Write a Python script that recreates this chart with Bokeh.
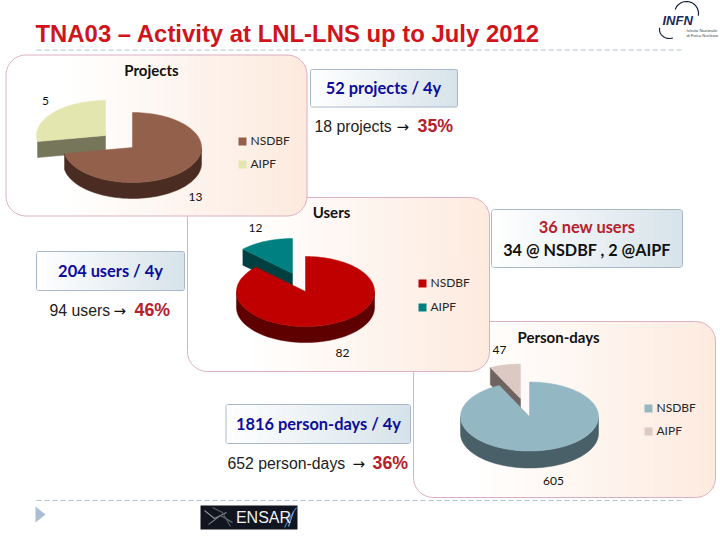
import numpy as np
from bokeh.plotting import figure
from bokeh.models import Range1d
from bokeh.core.properties import value
from bokeh.embed import file_html
from bokeh.resources import INLINE

categories = ["NSDBF", "AIPF"]
project_values = [13, 5]
user_values = [82, 12]
person_day_values = [605, 47]
chart_titles = ["Projects", "Users", "Person-days"]

p = figure(width=720, height=540, output_backend="svg", toolbar_location=None,
           x_range=Range1d(0, 720), y_range=Range1d(540, 0),
           min_border=0, outline_line_color=None, background_fill_color="white",
           border_fill_color="white")
p.axis.visible = False
p.grid.visible = False

SANS = "Liberation Sans"
CAL = "Lato"
ARROW = "DejaVu Sans"


def mix(c0, c1, t):
    t = min(max(t, 0), 1)
    return "#%02x%02x%02x" % tuple(int(round(a + (b - a) * t)) for a, b in zip(c0, c1))


def rounded_outline(x0, y0, x1, y1, r):
    a = np.linspace(0, np.pi / 2, 12)
    xs = np.concatenate([x1 - r + r * np.sin(a), x1 - r + r * np.cos(a),
                         x0 + r - r * np.sin(a), x0 + r - r * np.cos(a)])
    ys = np.concatenate([y0 + r - r * np.cos(a), y1 - r + r * np.sin(a),
                         y1 - r + r * np.cos(a), y0 + r - r * np.sin(a)])
    return xs, ys


def panel(x0, y0, x1, y1, r, c0, c1, border, start=0.0, step=3, lw=1.0):
    lefts, rights, tops, bottoms, cols = [], [], [], [], []
    w = x1 - x0
    for x in np.arange(x0, x1, step):
        xm = min(x + step / 2, x1)
        dx = max(x0 + r - xm, xm - (x1 - r), 0)
        dy = r - np.sqrt(max(r * r - dx * dx, 0))
        lefts.append(x); rights.append(min(x + step, x1))
        tops.append(y0 + dy); bottoms.append(y1 - dy)
        cols.append(mix(c0, c1, ((xm - x0) / w - start) / (1 - start)))
    p.quad(left=lefts, right=rights, top=tops, bottom=bottoms,
           fill_color=cols, line_color=cols, line_width=0.6)
    xs, ys = rounded_outline(x0, y0, x1, y1, r)
    p.patch(xs, ys, fill_color=None, line_color=border, line_width=lw)


def pt(cx, cy, rx, ry, a):
    r = np.radians(a)
    return cx + rx * np.sin(r), cy - ry * np.cos(r)


def pie(values, main, off, rx, ry, depth, colors, walls):
    total = sum(values)
    split = values[0] / total * 360
    ax, ay = off
    tx, ty = pt(ax, ay, rx, ry, split)
    p.patch([ax, tx, tx, ax], [ay, ty, ty + depth, ay + depth],
            fill_color=walls[1], line_color=walls[1], line_width=0.5)
    arc = np.linspace(split, 360, 50)
    xs, ys = pt(ax, ay, rx, ry, arc)
    p.patch(np.r_[ax, xs], np.r_[ay, ys], fill_color=colors[1], line_color=colors[1], line_width=0.5)
    cx, cy = main
    lo, hi = 90, min(270, split)
    arc = np.linspace(lo, hi, 60)
    xs, ys = pt(cx, cy, rx, ry, arc)
    p.patch(np.r_[xs, xs[::-1]], np.r_[ys, ys[::-1] + depth],
            fill_color=walls[0], line_color=walls[0], line_width=0.5)
    arc = np.linspace(0, split, 120)
    xs, ys = pt(cx, cy, rx, ry, arc)
    p.patch(np.r_[cx, xs], np.r_[cy, ys], fill_color=colors[0], line_color=colors[0], line_width=0.5)


def label(x, y, s, size=12, color="#111111", font=CAL, style="normal", align="left", baseline="middle"):
    p.text([x], [y - 1], text=[s], text_font=value(font), text_font_size=f"{size}px", text_font_style=style,
           text_color=color, text_align=align, text_baseline=baseline)


def legend(x, ys, colors):
    for y, c, name in zip(ys, colors, categories):
        p.quad(left=[x], right=[x + 8], top=[y - 4], bottom=[y + 4], fill_color=c, line_color=None)
        label(x + 12, y, name, 12, "#262626")


def share(x, x_arrow, x_pct, y, words, pct):
    label(x, y, words, 15.8, "#222222", SANS)
    label(x_arrow, y, "→", 15, "#111111", ARROW)
    label(x_pct, y - 0.5, pct, 17.8, RED, SANS, "bold")


WHITE = (255, 255, 255)
PEACH = (253, 234, 222)
PANEL_EDGE = "#dcb0c4"
BOX_RIGHT = (214, 227, 234)
BOX_EDGE = "#a8b8c8"
NAVY = "#0c0c9c"
RED = "#b7202a"
START = 0.2

# Rules
p.line([36, 684], [49.5, 49.5], line_color="#b4c2cb", line_width=1, line_dash=[5, 3])
p.line([36, 683], [500, 500], line_color="#b4c2cb", line_width=1, line_dash=[5, 3])

# Title
label(35, 34, "TNA03 – Activity at LNL-LNS up to July 2012", 23.9, "#d0141c", SANS, "bold")

# Panels, back to front
panel(413, 321, 715, 497, 20, WHITE, PEACH, PANEL_EDGE, start=START)
pie(person_day_values, (529, 416), (520, 398), 69, 34.5, 17,
    ["#93b8c4", "#dcc9c3"], ["#4a6068", "#6e6360"])
label(558, 337, chart_titles[2], 15, "#111111", CAL, "bold", "center")
label(499, 350, str(person_day_values[1]), 12, align="center")
label(553, 481, str(person_day_values[0]), 12, align="center")
legend(644, [408, 431], ["#93b8c4", "#dcc9c3"])

panel(187, 197, 489, 371, 20, WHITE, PEACH, PANEL_EDGE, start=START)
pie(user_values, (305, 291), (292, 273), 69, 35, 16,
    ["#c00000", "#008080"], ["#5f0000", "#004040"])
label(331, 212, chart_titles[1], 15, "#111111", CAL, "bold", "center")
label(255, 228, str(user_values[1]), 12, align="center")
label(342, 353, str(user_values[0]), 12, align="center")
legend(418, [283, 307], ["#c00000", "#008080"])

panel(5.5, 54.5, 306.5, 215.5, 20, WHITE, PEACH, PANEL_EDGE, start=START)
pie(project_values, (132, 147), (105, 135), 69, 35, 16,
    ["#93604c", "#e3e6af"], ["#4a2c22", "#76765a"])
label(151, 70, chart_titles[0], 15, "#111111", CAL, "bold", "center")
label(45, 101, str(project_values[1]), 12, align="center")
label(195, 197, str(project_values[0]), 12, align="center")
legend(238, [141, 164], ["#93604c", "#e3e6af"])

# Boxes
panel(310, 69, 457, 106.5, 2, WHITE, BOX_RIGHT, BOX_EDGE)
label(383, 87.5, "52 projects / 4y", 16.4, NAVY, CAL, "bold", "center")
panel(36, 251, 184, 290, 2, WHITE, BOX_RIGHT, BOX_EDGE)
label(110, 270.5, "204 users / 4y", 16.4, NAVY, CAL, "bold", "center")
panel(225.5, 404, 410, 443, 2, WHITE, BOX_RIGHT, BOX_EDGE)
label(318, 423.5, "1816 person-days / 4y", 16.4, NAVY, CAL, "bold", "center")
panel(491, 209, 682, 267, 3, WHITE, BOX_RIGHT, BOX_EDGE)
label(586.5, 227, "36 new users", 16.4, RED, CAL, "bold", "center")
label(586.5, 249.5, "34 @ NSDBF , 2 @AIPF", 16.2, "#111111", CAL, "bold", "center")

# Share lines
share(314, 396, 417, 127, "18 projects", "35%")
share(49, 113, 134, 311, "94 users", "46%")
share(227, 352, 372, 464, "652 person-days", "36%")

# Footer marker
p.patch([35, 45, 35], [506, 514, 522], fill_color="#a9bdd4", line_color=None)

# ENSAR logo
p.quad(left=[200], right=[297], top=[505], bottom=[529], fill_color="#10151f", line_color=None)
p.multi_line([[204, 214, 226], [208, 220, 232], [212, 222, 230], [284, 290, 296], [288, 293]],
             [[510, 518, 512], [524, 515, 522], [507, 512, 526], [527, 516, 507], [526, 511]],
             line_color=["#8d8f96", "#70737b", "#5c5f67", "#3f7fd0", "#6aa5e8"], line_width=1.1)
label(263, 518, "ENSAR", 16, "#f2f2f2", SANS, "normal", "center")

# INFN logo
ang = np.linspace(200, 370, 30)
p.line(686 + 12 * np.cos(np.radians(ang)), 13 + 12 * np.sin(np.radians(ang)),
       line_color="#17224a", line_width=1.2)
ang2 = np.linspace(70, 190, 20)
p.line(669 + 10 * np.cos(np.radians(ang2)), 29 + 9 * np.sin(np.radians(ang2)),
       line_color="#17224a", line_width=1.2)
label(662, 21, "INFN", 13, "#1b2b55", SANS, "bold italic")
label(686, 31, "Istituto Nazionale", 4, "#444444", SANS)
label(686, 36, "di Fisica Nucleare", 4, "#444444", SANS)

open("out.html", "w").write(file_html(p, INLINE))
